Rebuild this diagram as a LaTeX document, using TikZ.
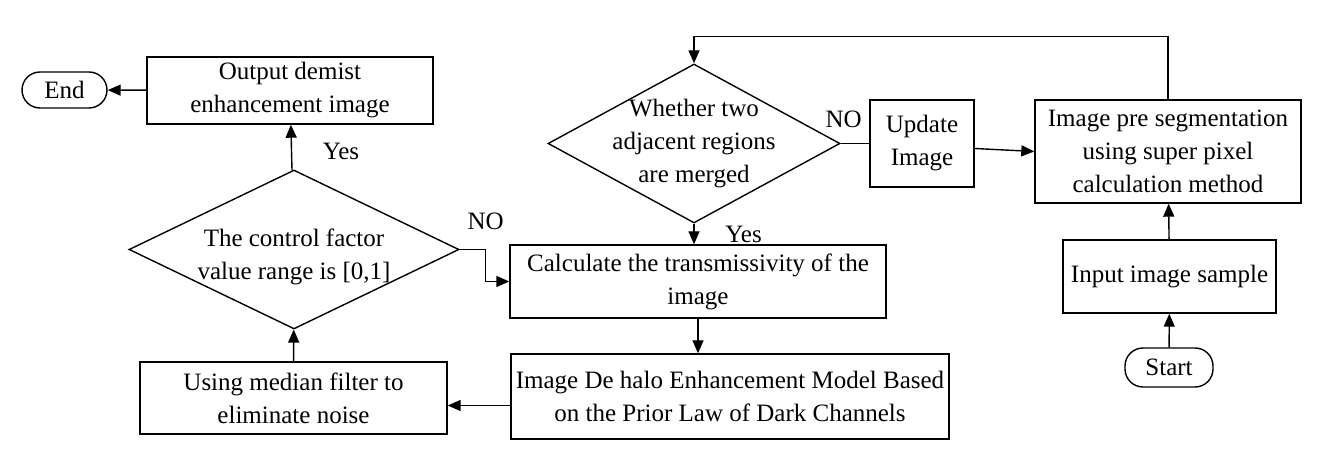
\documentclass[tikz,border=0pt]{standalone}
\usepackage{fontspec}
\setmainfont{Liberation Serif}
\usetikzlibrary{shapes.geometric,arrows.meta,positioning,calc}

\begin{document}
\begin{tikzpicture}[x=0.5pt,y=-0.5pt,line width=0.7pt,
    font=\fontsize{12.5}{16.5}\selectfont,
    box/.style={draw,rectangle,align=center,inner sep=1pt},
    term/.style={draw,rectangle,rounded corners=9pt,inner sep=1pt},
    decision/.style={draw,diamond,inner sep=0pt},
    arr/.style={-{Triangle[length=6.5pt,width=5.5pt]}}]
    \useasboundingbox (0,0) rectangle (1332,469);

    % right column
    \node[term,minimum width=44pt,minimum height=19.5pt] (start) at (1169,367.5) {Start};
    \node[box,minimum width=106.5pt,minimum height=36.5pt] (inp) at (1169.5,276.5) {Input image sample};
    \node[box,minimum width=133pt,minimum height=51.5pt] (pre) at (1168,151.5) {Image pre segmentation\\using super pixel\\calculation method};
    \node[box,minimum width=52pt,minimum height=43.5pt] (upd) at (922,143.5) {Update\\Image};

    % region merging test
    \node[decision,minimum width=146pt,minimum height=79.5pt] (merge) at (694,143.5) {};
    \node[align=center] (mergetxt) at (merge) {Whether two\\adjacent regions\\are merged};

    % middle column
    \node[box,minimum width=188pt,minimum height=36.5pt] (calc) at (698,281.5) {Calculate the transmissivity of the\\image};
    \node[box,minimum width=219pt,minimum height=42.5pt] (halo) at (730,396.5) {Image De halo Enhancement Model Based\\on the Prior Law of Dark Channels};

    % left column
    \node[box,minimum width=153.5pt,minimum height=36pt] (med) at (293.5,398) {Using median filter to\\eliminate noise};
    \node[decision,minimum width=165pt,minimum height=79.5pt] (ctrl) at (294,249.5) {};
    \node[align=center] (ctrltxt) at ($(ctrl)+(0,7)$) {The control factor\\value range is [0,1]};
    \node[box,minimum width=143pt,minimum height=33.5pt] (out) at (290,90.5) {Output demist\\enhancement image};
    \node[term,minimum width=42.5pt,minimum height=18pt] (end) at (64.5,90) {End};

    % connectors
    \draw[arr] (start) -- (inp);
    \draw[arr] (inp) -- (pre);
    \draw[arr] (pre.north) -- ++(0,-63) -| (merge.north);
    \draw (merge.east) -- (upd.west) node[pos=0.1,above,yshift=4pt] (no1) {NO};
    \draw[arr] ([yshift=-2.5pt]upd.east) -- (pre.west);
    \draw[arr] (merge.south) -- (merge.south |- calc.north) node[midway,right=12pt] (yes1) {Yes};
    \draw[arr] (calc.south) -- (calc.south |- halo.north);
    \draw[arr] ([yshift=-4.5pt]halo.west) -- ([yshift=-4.5pt]halo.west -| med.east);
    \draw[arr] (med) -- (ctrl);
    \draw[arr] (ctrl.east) -- ++(26,0) coordinate (bend) |- (calc.west);
    \node[above=6pt] (no2) at (bend) {NO};
    \draw[arr] (ctrl) -- (out) node[midway,right=12pt,yshift=-2pt] (yes2) {Yes};
    \draw[arr] (out) -- (end);
\end{tikzpicture}
\end{document}
